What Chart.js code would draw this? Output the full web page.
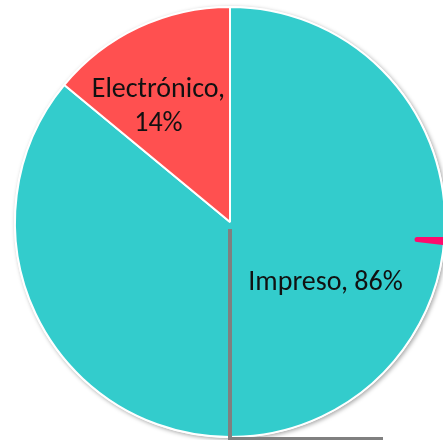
<!DOCTYPE html>
<html>
<head>
<meta charset="utf-8">
<script src="https://cdn.jsdelivr.net/npm/chart.js@4/dist/chart.umd.min.js"></script>
<style>
  html, body { margin: 0; padding: 0; background: #fff; overflow: hidden; }
  #wrap { position: absolute; left: 0; top: 0; width: 460px; height: 444px; }
</style>
</head>
<body>
<div id="wrap"><canvas id="myPieChart" width="460" height="444"></canvas></div>
<script>
// pie data
const labels = ["Impreso", "Electrónico"];
const values = [86, 14];
const colors = ["#33CCCC", "#FF5050"];

// label text anchors, as fractions of the radius from the centre
const labelAnchors = [
  { dx: 0.444, dy: 0.282 },
  { dx: -0.333, dy: -0.537 },
];

// soft shadow under the pie rim
const pieShadow = {
  id: "pieShadow",
  beforeDatasetsDraw(chart) {
    const arc = chart.getDatasetMeta(0).data[0];
    if (!arc) return;
    const ctx = chart.ctx;
    ctx.save();
    ctx.shadowColor = "rgba(0,0,0,0.35)";
    ctx.shadowBlur = 4;
    ctx.shadowOffsetX = 1.5;
    ctx.shadowOffsetY = 1.5;
    ctx.fillStyle = "#fff";
    ctx.beginPath();
    ctx.arc(arc.x, arc.y, arc.outerRadius + 1, 0, Math.PI * 2);
    ctx.fill();
    ctx.restore();
  },
};

// "Category, NN%" labels inside the slices
const sliceLabels = {
  id: "sliceLabels",
  afterDatasetsDraw(chart) {
    const ctx = chart.ctx;
    const total = values.reduce((a, b) => a + b, 0);
    chart.getDatasetMeta(0).data.forEach((arc, i) => {
      const r = arc.outerRadius;
      const x = arc.x + labelAnchors[i].dx * r;
      const y = arc.y + labelAnchors[i].dy * r;
      const pct = Math.round(values[i] / total * 100) + "%";
      ctx.save();
      ctx.font = "28px Carlito, Calibri, 'Open Sans', sans-serif";
      ctx.fillStyle = "#111";
      ctx.textAlign = "center";
      ctx.textBaseline = "middle";
      if (i === 1) {
        ctx.fillText(labels[i] + ",", x, y - 17);
        ctx.fillText(pct, x, y + 17);
      } else {
        ctx.fillText(labels[i] + ", " + pct, x, y);
      }
      ctx.restore();
    });
  },
};

// the grey frame lines and pink stroke that sit over the picture
const overlay = {
  id: "overlay",
  afterDraw(chart) {
    const arc = chart.getDatasetMeta(0).data[0];
    if (!arc) return;
    const ctx = chart.ctx;
    const cx = arc.x, cy = arc.y, r = arc.outerRadius;
    ctx.save();
    ctx.fillStyle = "#808080";
    ctx.fillRect(cx - 2, cy + 7, 4, 440 - cy);
    ctx.fillRect(cx - 2, 437, 155, 4);
    ctx.fillStyle = "#FF0A6C";
    ctx.beginPath();
    ctx.moveTo(cx + r * 0.87, cy + 15);
    ctx.lineTo(443, cy + 15);
    ctx.lineTo(443, cy + 23);
    ctx.lineTo(cx + r * 0.87, cy + 20);
    ctx.arc(cx + r * 0.87, cy + 17.5, 2.5, Math.PI / 2, Math.PI * 1.5);
    ctx.fill();
    ctx.restore();
  },
};

const data = {
  labels: labels,
  datasets: [
    {
      data: values,
      backgroundColor: colors,
      borderColor: "#FFFFFF",
      borderWidth: 2,
    },
  ],
};

const config = {
  type: "pie",
  data: data,
  options: {
    responsive: false,
    animation: false,
    layout: { padding: 6 },
    plugins: {
      legend: { display: false },
      tooltip: { enabled: false },
    },
  },
  plugins: [pieShadow, sliceLabels, overlay],
};

const ctx = document.getElementById("myPieChart").getContext("2d");
const myPieChart = new Chart(ctx, config);
</script>
</body>
</html>
